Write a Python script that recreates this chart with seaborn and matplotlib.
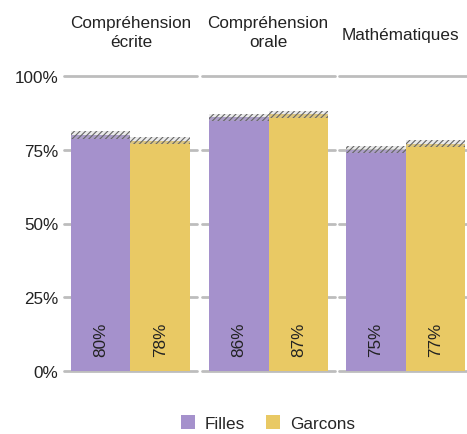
import matplotlib
matplotlib.use("Agg")
import matplotlib.pyplot as plt
from matplotlib.patches import Patch
import seaborn as sns
import pandas as pd

# Data: share of pupils per subject and gender
subjects = ["Compréhension\nécrite", "Compréhension\norale", "Mathématiques"]
genders = ["Filles", "Garcons"]
filles = [80, 86, 75]
garcons = [78, 87, 77]
margin = [1.2, 1.2, 1.2]  # half-width of the uncertainty band, in points
yticks = [0, 25, 50, 75, 100]
ytick_labels = ["0%", "25%", "50%", "75%", "100%"]
colors = {"Filles": "#A591CC", "Garcons": "#E9C964"}

sns.set_theme(style="white")
plt.rcParams["font.family"] = ["Liberation Sans", "DejaVu Sans"]
plt.rcParams["hatch.linewidth"] = 0.8

W, H = 467, 435
fig = plt.figure(figsize=(W / 100, H / 100), dpi=100)

y0_px, y100_px = 372, 77
panel_left = [64, 202, 339]
panel_w = 133
title_x = [131, 268, 400]
title_y = [33, 33, 36]

df = pd.DataFrame({
    "subject": [s for s in subjects for _ in genders],
    "gender": genders * len(subjects),
    "value": [v for pair in zip(filles, garcons) for v in pair],
})

for i, subj in enumerate(subjects):
    ax = fig.add_axes([panel_left[i] / W, (H - y0_px) / H,
                       panel_w / W, (y0_px - y100_px) / H])
    sub = df[df["subject"] == subj]
    for t in yticks:
        ax.axhline(t, color="#BDBDBD", lw=2, zorder=0, clip_on=False)
    sns.barplot(data=sub, x="gender", y="value", hue="gender",
                palette=colors, width=1.0, order=genders,
                hue_order=genders, legend=False, ax=ax,
                saturation=1, linewidth=0, zorder=2)
    # hatched uncertainty band on top of each bar
    vals = sub["value"].tolist()
    ax.bar(range(len(genders)), [2 * margin[i]] * len(genders),
           bottom=[v - margin[i] for v in vals], width=1.0,
           facecolor=(0.75, 0.75, 0.75, 0.3), edgecolor="#666666",
           hatch="//////", linewidth=0, zorder=3)
    for j, v in enumerate(vals):
        ax.text(j, 11, f"{v}%", rotation=90, ha="center", va="center",
                fontsize=12.3, color="#222222", zorder=4)
    ax.set_xlim(-0.616, 1.616)
    ax.set_ylim(0, 100)
    ax.set_xlabel("")
    ax.set_ylabel("")
    ax.set_xticks([])
    ax.set_yticks(yticks)
    if i == 0:
        ax.set_yticklabels(ytick_labels, fontsize=12.3, color="#222222")
        ax.tick_params(axis="y", length=0, pad=9)
    else:
        ax.set_yticklabels([])
        ax.tick_params(axis="y", length=0)
    sns.despine(ax=ax, left=True, bottom=True)
    ax.patch.set_alpha(0)
    fig.text(title_x[i] / W, 1 - title_y[i] / H, subj, ha="center",
             va="center", fontsize=12.3, color="#222222", linespacing=1.35)

# the first panel's tick labels sit a little closer to the gridlines
fig.axes[0].tick_params(axis="y", pad=4)

handles = [Patch(facecolor=colors[g], edgecolor="none", label=g) for g in genders]
fig.legend(handles=handles, loc="center", bbox_to_anchor=(268 / W, 1 - 424 / H),
           ncol=2, frameon=False, fontsize=12.3, handlelength=0.8,
           handleheight=0.9, handletextpad=0.6, columnspacing=1.2)

fig.savefig("out.png", dpi=100)
